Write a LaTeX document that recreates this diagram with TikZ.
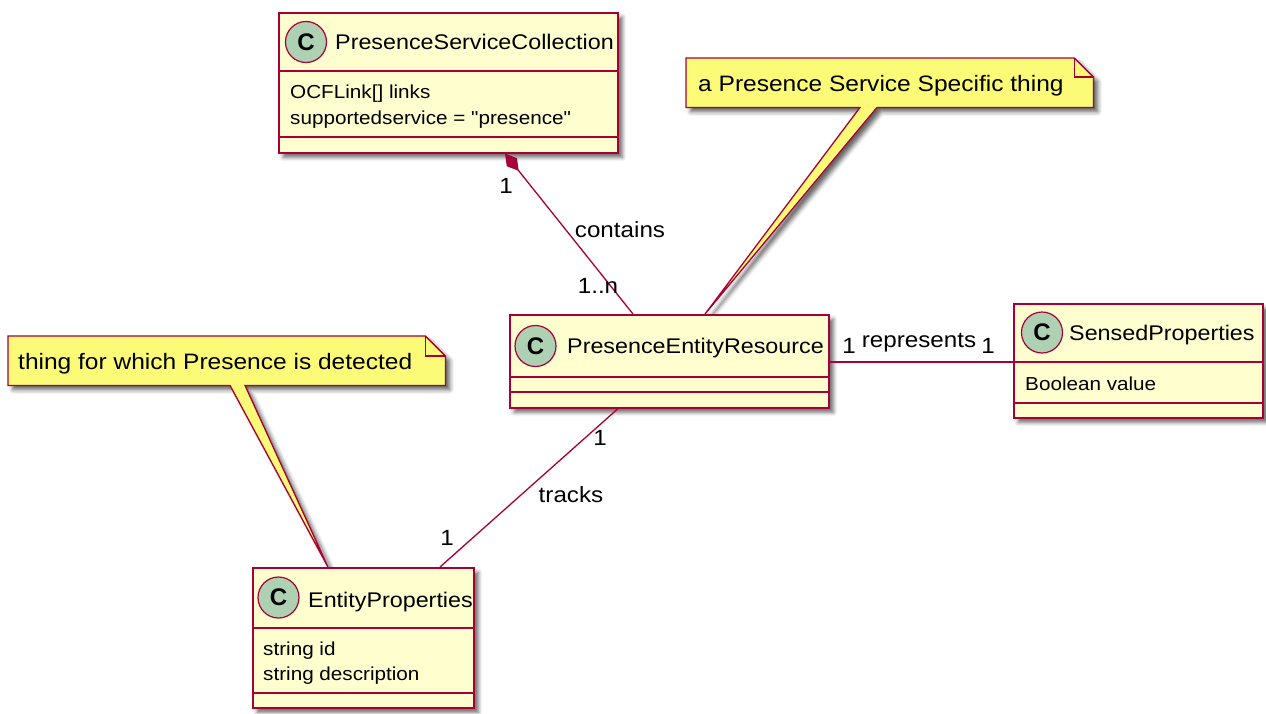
\documentclass[tikz,border=0pt]{standalone}
\usepackage{fontspec}
\setmainfont{Liberation Sans}
\newfontfamily\umlfont[FakeStretch=1.1]{Liberation Sans}
\usetikzlibrary{arrows.meta,shadows.blur,calc}

\definecolor{umlborder}{HTML}{A80036}
\definecolor{classfill}{HTML}{FEFECE}
\definecolor{notefill}{HTML}{FBFB77}
\definecolor{spotfill}{HTML}{ADD1B2}

\tikzset{
  boxshadow/.style={blur shadow={shadow xshift=4.5pt, shadow yshift=-4.5pt,
      shadow blur radius=4pt, shadow opacity=60}},
  classbox/.style={draw=umlborder, fill=classfill, line width=1.6pt,
      inner sep=0pt, anchor=north west, boxshadow},
  divider/.style={draw=umlborder, line width=1.6pt},
  spot/.style={circle, draw=umlborder, fill=spotfill, line width=1.2pt,
      minimum size=41pt, inner sep=0pt,
      font=\bfseries\fontsize{24}{24}\selectfont},
  classname/.style={anchor=base west, inner sep=0pt,
      font=\umlfont\fontsize{21.2}{25}\selectfont},
  attr/.style={anchor=base west, inner sep=0pt,
      font=\umlfont\fontsize{18.8}{23}\selectfont},
  notearea/.style={anchor=north west, inner sep=0pt},
  notebody/.style={draw=umlborder, fill=notefill, line width=1.3pt,
      line join=miter, boxshadow},
  notetext/.style={anchor=base west, inner sep=0pt,
      font=\umlfont\fontsize{22.3}{26}\selectfont},
  assoc/.style={draw=umlborder, line width=1.3pt},
  edgelabel/.style={anchor=base, inner sep=0pt,
      font=\umlfont\fontsize{22}{26}\selectfont},
}

\begin{document}
\begin{tikzpicture}[x=1pt, y=-1pt]
\useasboundingbox (0,0) rectangle (1266,713);

% ---------- notes (drawn first so the class borders sit on the tips) ----------
\node[notearea, minimum width=407pt, minimum height=49pt] (n1) at (686,58) {};
\node[notearea, minimum width=437pt, minimum height=49pt] (n2) at (8,336) {};

% placeholders for the class boxes, so the note tips can point at them
\node[inner sep=0pt, minimum width=319pt, minimum height=93pt, anchor=north west] (perref) at (509,314) {};
\node[inner sep=0pt, minimum width=221pt, minimum height=140pt, anchor=north west] (epref) at (252,567) {};

\path[notebody]
  (n1.north west) -- ([xshift=-19pt]n1.north east) -- ([yshift=-19pt]n1.north east)
  -- (n1.south east) -- ([xshift=191pt]n1.south west)
  -- ([xshift=196pt]perref.north west)
  -- ([xshift=174pt]n1.south west) -- (n1.south west) -- cycle;
\draw[umlborder, line width=1.3pt]
  ([xshift=-19pt]n1.north east) -- ([xshift=-19pt,yshift=-19pt]n1.north east)
  -- ([yshift=-19pt]n1.north east);
\node[notetext] (n1text) at ([xshift=12pt,yshift=-33.5pt]n1.north west)
  {a Presence Service Specific thing};

\path[notebody]
  (n2.north west) -- ([xshift=-20pt]n2.north east) -- ([yshift=-20pt]n2.north east)
  -- (n2.south east) -- ([xshift=237pt]n2.south west)
  -- ([xshift=76pt]epref.north west)
  -- ([xshift=222pt]n2.south west) -- (n2.south west) -- cycle;
\draw[umlborder, line width=1.3pt]
  ([xshift=-20pt]n2.north east) -- ([xshift=-20pt,yshift=-20pt]n2.north east)
  -- ([yshift=-20pt]n2.north east);
\node[notetext] (n2text) at ([xshift=10pt,yshift=-33pt]n2.north west)
  {thing for which Presence is detected};

% ---------- PresenceServiceCollection ----------
\node[classbox, minimum width=339pt, minimum height=140pt] (psc) at (278,12) {};
\draw[divider] ([yshift=-59pt]psc.north west) -- ([yshift=-59pt]psc.north east);
\draw[divider] ([yshift=-125pt]psc.north west) -- ([yshift=-125pt]psc.north east);
\node[spot] (pscspot) at ([xshift=28pt,yshift=-30pt]psc.north west) {C};
\node[classname] (pscname) at ([xshift=57pt,yshift=-37.5pt]psc.north west) {PresenceServiceCollection};
\node[attr] (pscattra) at ([xshift=12pt,yshift=-86pt]psc.north west) {OCFLink[] links};
\node[attr] (pscattrb) at ([xshift=12pt,yshift=-112pt]psc.north west) {supportedservice = "presence"};

% ---------- PresenceEntityResource ----------
\node[classbox, minimum width=319pt, minimum height=93pt] (per) at (509,314) {};
\draw[divider] ([yshift=-63pt]per.north west) -- ([yshift=-63pt]per.north east);
\draw[divider] ([yshift=-78pt]per.north west) -- ([yshift=-78pt]per.north east);
\node[spot] (perspot) at ([xshift=26.5pt,yshift=-32pt]per.north west) {C};
\node[classname] (pername) at ([xshift=58pt,yshift=-39pt]per.north west) {PresenceEntityResource};

% ---------- SensedProperties ----------
\node[classbox, minimum width=249pt, minimum height=114pt] (sp) at (1013,303) {};
\draw[divider] ([yshift=-59pt]sp.north west) -- ([yshift=-59pt]sp.north east);
\draw[divider] ([yshift=-100pt]sp.north west) -- ([yshift=-100pt]sp.north east);
\node[spot] (spspot) at ([xshift=29pt,yshift=-29.5pt]sp.north west) {C};
\node[classname] (spname) at ([xshift=56pt,yshift=-37pt]sp.north west) {SensedProperties};
\node[attr] (spattr) at ([xshift=12pt,yshift=-87pt]sp.north west) {Boolean value};

% ---------- EntityProperties ----------
\node[classbox, minimum width=221pt, minimum height=140pt] (ep) at (252,567) {};
\draw[divider] ([yshift=-61pt]ep.north west) -- ([yshift=-61pt]ep.north east);
\draw[divider] ([yshift=-126pt]ep.north west) -- ([yshift=-126pt]ep.north east);
\node[spot] (epspot) at ([xshift=26.5pt,yshift=-30.5pt]ep.north west) {C};
\node[classname] (epname) at ([xshift=56pt,yshift=-40pt]ep.north west) {EntityProperties};
\node[attr] (epattra) at ([xshift=11pt,yshift=-88pt]ep.north west) {string id};
\node[attr] (epattrb) at ([xshift=11pt,yshift=-113pt]ep.north west) {string description};

% ---------- relations ----------
\draw[assoc, {Diamond[length=22pt,width=13pt]}-]
  ([xshift=227pt]psc.south west) -- ([xshift=124pt]per.north west);
\draw[assoc] ([yshift=-48pt]per.north east) -- ([yshift=-59pt]sp.north west);
\draw[assoc] ([xshift=109pt]per.south west) -- ([xshift=188pt]ep.north west);

% ---------- relation labels ----------
\node[edgelabel] (lcontainsa) at (506,193) {1};
\node[edgelabel] (lcontains)  at (620,237) {contains};
\node[edgelabel] (lcontainsb) at (598,293) {1..n};
\node[edgelabel] (lrepa)      at (849,353) {1};
\node[edgelabel] (lrep)       at (919,347) {represents};
\node[edgelabel] (lrepb)      at (988,353) {1};
\node[edgelabel] (ltracka)    at (600,445) {1};
\node[edgelabel] (ltrack)     at (571,502) {tracks};
\node[edgelabel] (ltrackb)    at (447,545) {1};
\end{tikzpicture}
\end{document}
